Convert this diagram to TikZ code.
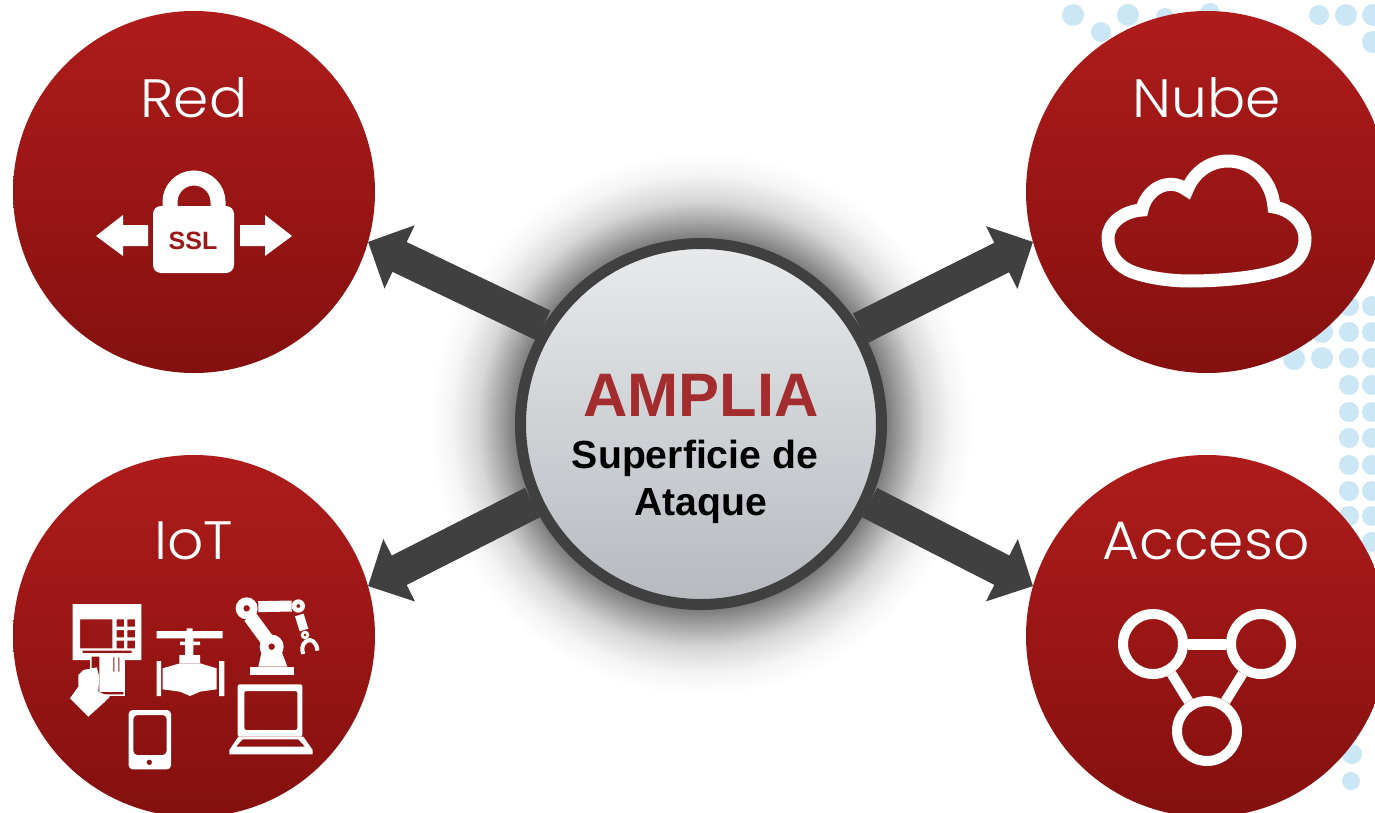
\documentclass[tikz,border=0pt]{standalone}
\usepackage{fontspec}
\setmainfont{Liberation Sans}
\newfontfamily\hubfont[UprightFont=* Light,FakeStretch=1.05]{Poppins}
\usetikzlibrary{arrows.meta}
\definecolor{hubtop}{HTML}{AE1C1B}
\definecolor{hubbot}{HTML}{84100F}
\definecolor{ringgray}{HTML}{404040}
\definecolor{disctop}{HTML}{E8EAEC}
\definecolor{discbot}{HTML}{B6BABF}
\definecolor{dotblue}{HTML}{CBE6F5}
\definecolor{titlered}{HTML}{A22C2E}
\definecolor{sslred}{HTML}{9C1716}
\pgfdeclareradialshading{halo}{\pgfpoint{0bp}{0bp}}{color(0bp)=(black!52);color(17bp)=(black!52);color(18.5bp)=(black!36);color(20.5bp)=(black!16);color(23bp)=(black!4);color(25bp)=(white);color(50bp)=(white)}

\begin{document}
\begin{tikzpicture}[x=.5pt,y=-.5pt]
	\tikzstyle{hub} = [circle,minimum size=181pt,inner sep=0pt,outer sep=0pt,top color=hubtop,bottom color=hubbot]
	\tikzstyle{hublabel} = [text=white,font=\hubfont\fontsize{27}{27}\selectfont,inner sep=0pt]
	\tikzstyle{bigarrow} = [ringgray,line width=16.5pt,-{Triangle[length=17.5pt,width=34pt]}]
	\tikzstyle{icon} = [fill=white,draw=none]
	\tikzstyle{ringnode} = [circle,draw=white,line width=5pt,minimum size=30pt,inner sep=0pt]
	\useasboundingbox (0,0) rectangle (1375,813);
	% dots behind
	\foreach \x/\y/\r in {1073/15/11,1128/15/11,1101/32/10,1165/17/9,1210/13/10,1319/15/10,1346/15/11,1373/15/11,1373/42/11,1294/359/11,1322/358/11,1322/332/11}
		\fill[dotblue] (\x,\y) circle[radius=\r];
	\foreach \y in {306,332,358,385,412,438,465,491,516}
		\fill[dotblue] (1349,\y) circle[radius=10] (1372,\y) circle[radius=10];
	\fill[dotblue] (1372,542) circle[radius=10] (1352,754) circle[radius=10] (1351,781) circle[radius=9];
	% hubs
	\foreach \name/\x/\y/\txt/\lx/\ly in {red/194/192/Red/194/98,nube/1207/192/Nube/1207/98,iot/194/636/IoT/194/541,acceso/1207/636/Acceso/1206/541} {
		\node[hub] (\name) at (\x,\y) {};
		\node[hublabel] (\name label) at (\lx,\ly) {\txt};
	}
	% centre
	\node[circle,shading=halo,minimum size=272pt,inner sep=0pt] (halo) at (701,424) {};
	\node[circle,draw=ringgray,line width=5.5pt,minimum size=180.5pt,inner sep=0pt,top color=disctop,bottom color=discbot] (ampl) at (701,424) {};
	\node[text=titlered,font=\bfseries\fontsize{30.7}{30.7}\selectfont,inner sep=0pt] (amplia) at (701,395) {AMPLIA};
	\node[font=\bfseries\fontsize{19.6}{19.6}\selectfont,inner sep=0pt] (sup) at (695,458) {Superficie de};
	\node[font=\bfseries\fontsize{19.6}{19.6}\selectfont,inner sep=0pt] (ata) at (701,506) {Ataque};
	% connections
	\draw[bigarrow] (ampl.148) -- (red.-16);
	\draw[bigarrow] (ampl.31) -- (nube.196);
	\draw[bigarrow] (ampl.205) -- (iot.16);
	\draw[bigarrow] (ampl.-25) -- (acceso.164);
	% ssl icon
	\draw[white,line width=7.5pt] (170,210) -- (170,202) arc[start angle=180,end angle=360,radius=24] -- (218,210);
	\fill[white,rounded corners=4pt] (153,206) rectangle (234,273);
	\node[text=sslred,font=\bfseries\fontsize{12.5}{12.5}\selectfont,inner sep=0pt] (ssl) at (193,241) {SSL};
	\fill[white] (96,236) -- (123,215) -- (123,225) -- (148,225) -- (148,246) -- (123,246) -- (123,256) -- cycle;
	\fill[white] (292,236) -- (265,215) -- (265,225) -- (240,225) -- (240,246) -- (265,246) -- (265,256) -- cycle;
	% cloud
	\draw[white,line width=6.5pt,line join=miter] (1142,210) .. controls (1146,190) and (1168,176) .. (1187,190)
		.. controls (1195,170) and (1212,161) .. (1228,161) .. controls (1252,161) and (1272,180) .. (1274,207)
		.. controls (1292,210) and (1305,224) .. (1305,238) .. controls (1305,255) and (1295,265) .. (1280,270)
		.. controls (1250,280) and (1205,281) .. (1190,281) .. controls (1165,281) and (1140,276) .. (1128,270)
		.. controls (1115,263) and (1108,252) .. (1108,238) .. controls (1108,222) and (1125,211) .. (1142,210) -- cycle;
	% access triangle
	\node[ringnode] (left) at (1153,644) {};
	\node[ringnode] (right) at (1261,644) {};
	\node[ringnode] (low) at (1207,731) {};
	\draw[white,line width=5.5pt] (left) -- (right);
	\draw[white,line width=5pt] (left) -- (low);
	\draw[white,line width=5pt] (right) -- (low);
	% iot icons
	\begin{scope}[shift={(50,580)},scale=1/3]
		% atm
		\fill[icon,even odd rule] (68,72) rectangle (274,240) (90,118) rectangle (187,205)
			(200,118) rectangle (222,140) (232,118) rectangle (255,140)
			(200,150) rectangle (222,172) (232,150) rectangle (255,172)
			(200,182) rectangle (222,205) (232,182) rectangle (255,205)
			(98,212) rectangle (245,219);
		\fill[icon] (120,225) rectangle (225,348);
		\fill[hubbot!70!hubtop] (125,230) rectangle (148,343) (148,336) rectangle (220,343);
		\fill[hubbot!70!hubtop] (190,232) rectangle (193,275) (205,232) rectangle (208,275);
		\fill[icon] (100,270) -- (140,262) -- (148,290) -- (145,335) -- (180,350) -- (165,365) -- (115,410) -- (60,355) -- (85,320) -- (85,285) -- cycle;
		% valve
		\fill[icon] (320,153) rectangle (518,175) (410,145) rectangle (428,153) (405,175) rectangle (430,235)
			(390,185) rectangle (450,195) (388,225) rectangle (450,250)
			(320,243) rectangle (333,348) (507,243) rectangle (523,348);
		\fill[icon] (338,265) -- (390,250) -- (450,250) -- (500,265) -- (500,328) -- (450,335) -- (420,348) -- (390,335) -- (338,328) -- cycle;
		% robot
		\fill[icon] (600,260) rectangle (733,285);
		\fill[icon] (625,260) -- (635,215) -- (695,215) -- (712,260) -- cycle;
		\draw[white,line width=7pt] (600,110) -- (650,178);
		\draw[white,line width=5.5pt] (625,80) -- (725,78);
		\draw[white,line width=4.5pt] (748,105) -- (762,150);
		\fill[icon,even odd rule] (665,200) circle[radius=36] (665,200) circle[radius=10];
		\fill[icon,even odd rule] (590,85) circle[radius=33] (590,85) circle[radius=10];
		\fill[icon,even odd rule] (745,78) circle[radius=20] (745,78) circle[radius=6];
		\fill[icon,even odd rule] (765,165) circle[radius=13] (765,165) circle[radius=5];
		\draw[white,line width=2pt] (760,222) .. controls (750,195) and (765,182) .. (780,180) .. controls (795,182) and (802,200) .. (802,212);
		% tablet
		\fill[icon,even odd rule,rounded corners=2pt] (236,390) rectangle (363,568) (250,405) rectangle (350,525);
		\fill[hubbot!70!hubtop] (298,547) circle[radius=8];
		% laptop
		\fill[icon,even odd rule,rounded corners=1pt] (563,313) rectangle (757,470) (583,333) rectangle (742,450);
		\fill[icon,even odd rule] (565,470) -- (760,470) -- (788,510) -- (788,523) -- (538,523) -- (538,510) -- cycle (578,478) -- (745,478) -- (765,500) -- (558,500) -- cycle;
	\end{scope}
\end{tikzpicture}
\end{document}
